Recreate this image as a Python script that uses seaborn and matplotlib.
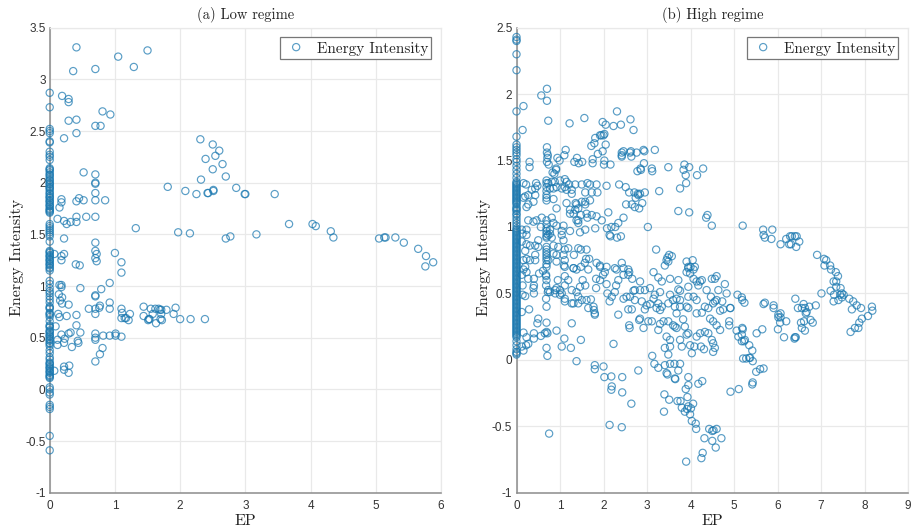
import pandas as pd
import seaborn as sns
import matplotlib.pyplot as plt

# Low regime, points on the EP = 0 axis
low_zero_ei = [2.87, 2.73, 2.52, 2.50, 2.48, 2.40, 2.39, 2.30, 2.27, 2.25, 2.22, 2.14, 2.12, 2.10, 2.07, 2.05,
               2.02, 2.00, 1.98, 1.96, 1.94, 1.92, 1.89, 1.87, 1.85, 1.83, 1.81, 1.79, 1.77, 1.75, 1.73, 1.71,
               1.60, 1.58, 1.56, 1.54, 1.52, 1.50, 1.48, 1.43, 1.34, 1.32, 1.30, 1.28, 1.26, 1.24, 1.22, 1.20,
               1.18, 1.15, 1.05, 1.02, 0.98, 0.95, 0.93, 0.90, 0.87, 0.84, 0.80, 0.78, 0.74, 0.72, 0.70, 0.66,
               0.62, 0.60, 0.57, 0.55, 0.53, 0.51, 0.49, 0.47, 0.45, 0.42, 0.38, 0.35, 0.31, 0.29, 0.26, 0.24,
               0.22, 0.20, 0.18, 0.16, 0.14, 0.12, 0.02, 0.00, -0.03, -0.05, -0.15, -0.17, -0.19, -0.45, -0.59,
               2.13, 2.08, 2.03, 1.99, 1.95, 1.90, 1.86, 1.82, 1.78, 1.74, 1.72, 1.33, 1.29, 1.25, 1.21, 1.17,
               0.79, 0.73, 0.61, 0.56, 0.52, 0.48, 0.44, 0.25, 0.21, 0.17, 0.13, 0.11]

# Low regime, (EP, energy intensity)
low_upper = [(.41, 3.31), (1.05, 3.22), (1.50, 3.28), (1.29, 3.12), (.36, 3.08), (.70, 3.10), (.19, 2.84), (.29, 2.81),
             (.29, 2.78), (.81, 2.69), (.93, 2.66), (.29, 2.60), (.41, 2.61), (.70, 2.55), (.78, 2.55), (.22, 2.43),
             (.41, 2.48), (.52, 2.10), (.70, 2.08), (.70, 2.00), (.70, 1.99), (.70, 1.90), (.70, 1.83), (.85, 1.83),
             (.52, 1.83), (.45, 1.85), (.41, 1.82), (.18, 1.84), (.18, 1.81), (.15, 1.76), (.12, 1.65), (.22, 1.63),
             (.26, 1.60), (.32, 1.62), (.41, 1.62), (.41, 1.67), (.56, 1.67), (.70, 1.67), (1.32, 1.56), (.22, 1.46),
             (.70, 1.42), (.70, 1.34), (.72, 1.31), (1.00, 1.32), (.22, 1.31), (.18, 1.29), (.07, 1.31), (.70, 1.27)]
low_far = [(1.81, 1.96), (2.08, 1.92), (2.25, 1.89), (2.42, 1.90), (2.43, 1.90), (2.51, 1.92), (2.51, 1.93), (2.32, 2.03),
           (2.31, 2.42), (2.50, 2.37), (2.60, 2.31), (2.54, 2.26), (2.39, 2.23), (2.65, 2.18), (2.50, 2.13), (2.70, 2.06),
           (1.97, 1.52), (2.15, 1.51), (2.70, 1.46), (2.77, 1.48), (2.86, 1.95), (2.99, 1.89), (3.00, 1.89), (3.45, 1.89),
           (3.17, 1.50), (3.67, 1.60), (4.03, 1.60), (4.08, 1.58), (4.31, 1.53), (4.35, 1.47), (5.05, 1.46), (5.13, 1.47),
           (5.15, 1.47), (5.30, 1.47), (5.43, 1.42), (5.65, 1.36), (5.77, 1.29), (5.76, 1.19), (5.88, 1.23)]
low_lower = [(1.10, 1.23), (1.10, 1.13), (.72, 1.24), (.40, 1.21), (.46, 1.20), (.18, 1.25), (.15, 1.01), (.18, 1.01),
             (.18, .99), (.47, .98), (.92, 1.03), (.79, .97), (.70, .91), (.70, .90), (.14, .92), (.19, .89), (.16, .86),
             (.19, .83), (.29, .82), (.92, .84), (.92, .78), (.77, .81), (.76, .79), (.60, .78), (.70, .78), (.70, .73),
             (.13, .73), (.15, .70), (.26, .71), (.41, .72), (.41, .62), (.09, .61), (1.10, .78), (1.11, .74), (1.23, .73),
             (1.10, .69), (1.15, .69), (1.17, .69), (1.21, .67), (1.44, .80), (1.44, .71), (1.55, .78), (1.58, .73),
             (1.62, .78), (1.51, .67), (1.52, .68), (1.53, .68), (1.63, .64), (1.67, .78), (1.69, .77), (1.71, .77),
             (1.71, .73), (1.70, .68), (1.72, .67), (1.79, .77), (1.93, .79), (1.90, .73), (2.00, .68), (2.16, .68),
             (2.38, .68), (.18, .53), (.12, .48), (.12, .43), (.22, .45), (.23, .49), (.32, .55), (.29, .54), (.47, .55),
             (.43, .47), (.44, .45), (.34, .41), (.70, .54), (.70, .50), (.70, .48), (.82, .52), (.92, .52), (1.01, .54),
             (1.01, .52), (1.10, .51), (.81, .40), (.77, .34), (.70, .27), (.22, .22), (.30, .23), (.22, .19), (.29, .16),
             (.07, .18)]

# High regime, points on the EP = 0 axis
high_zero_ei = [2.43, 2.41, 2.40, 2.30, 2.18, 1.87, 1.68, 1.62, 1.60, 1.58, 1.56, 1.54, 1.51, 1.49, 1.46, 1.43, 1.40,
                1.37, 1.34, 1.32, 1.30, 1.28, 1.26, 1.24, 1.22, 1.20, 1.18, 1.15, 1.13, 1.10, 1.07, 1.03, 0.99, 0.97,
                0.95, 0.93, 0.91, 0.89, 0.87, 0.85, 0.83, 0.81, 0.79, 0.77, 0.75, 0.73, 0.71, 0.69, 0.67, 0.65, 0.63,
                0.61, 0.59, 0.57, 0.55, 0.53, 0.51, 0.49, 0.47, 0.45, 0.43, 0.41, 0.39, 0.37, 0.35, 0.33, 0.31, 0.29,
                0.27, 0.25, 0.23, 0.21, 0.19, 0.17, 0.14, 0.11, 0.08, 0.06, 0.05, 0.04, 1.33, 1.31, 1.29, 1.27, 1.25,
                1.23, 1.21, 1.19, 1.17, 1.14, 1.12, 1.09, 1.05, 1.01, 0.98, 0.96, 0.94, 0.92, 0.90, 0.88, 0.86, 0.84,
                0.82, 0.80, 0.78, 0.76, 0.74, 0.72, 0.70, 0.68, 0.66, 0.64, 0.62, 0.60, 0.58, 0.56, 0.54, 0.52, 0.50,
                0.48, 0.46, 0.44, 0.42, 0.40, 0.38, 0.36, 0.34, 0.32, 0.30, 0.28, 0.26, 0.24, 0.22, 0.20, 0.18]

# High regime, (EP, energy intensity), grouped by height
high_top = [(.70, 2.04), (.57, 1.99), (.70, 1.95), (.16, 1.91), (.73, 1.80), (.14, 1.73), (1.22, 1.78), (1.56, 1.82),
            (2.31, 1.87), (1.98, 1.79), (2.05, 1.77), (2.23, 1.76), (2.40, 1.77), (2.62, 1.81), (2.69, 1.73), (1.92, 1.69),
            (1.95, 1.69), (2.00, 1.69), (2.02, 1.70), (1.81, 1.67), (1.79, 1.63), (1.72, 1.61), (2.05, 1.62), (1.98, 1.57),
            (1.87, 1.55), (2.02, 1.50), (2.01, 1.47), (2.16, 1.47), (1.75, 1.51), (1.75, 1.48), (1.51, 1.49), (1.43, 1.48),
            (1.33, 1.49), (1.39, 1.52), (1.13, 1.58), (1.10, 1.54), (.99, 1.50), (.94, 1.52), (.70, 1.60), (.70, 1.56),
            (.72, 1.54), (.71, 1.52), (.70, 1.49), (.74, 1.47), (.30, 1.49), (.30, 1.45), (.91, 1.44), (.83, 1.41),
            (.91, 1.43), (.87, 1.40), (2.42, 1.56), (2.42, 1.54), (2.46, 1.57), (2.42, 1.53), (2.63, 1.57), (2.61, 1.56),
            (2.64, 1.53), (2.76, 1.56), (2.92, 1.58), (2.94, 1.57), (3.18, 1.58), (2.93, 1.48), (2.85, 1.44), (2.78, 1.42),
            (2.86, 1.43), (3.11, 1.44), (3.12, 1.42), (3.49, 1.45), (3.86, 1.47), (3.84, 1.43), (3.97, 1.45), (3.89, 1.39),
            (4.15, 1.39), (4.29, 1.44), (3.90, 1.33), (3.76, 1.29), (3.28, 1.27)]
high_upper_band = [(.16, 1.33), (.22, 1.32), (.45, 1.33), (.48, 1.31), (.35, 1.28), (.43, 1.29), (.27, 1.24), (.20, 1.23),
                   (.43, 1.24), (.16, 1.22), (.39, 1.19), (.27, 1.17), (.23, 1.15), (.69, 1.35), (.69, 1.33), (.69, 1.30),
                   (.69, 1.27), (.69, 1.24), (.69, 1.22), (.69, 1.20), (.73, 1.33), (.81, 1.34), (.88, 1.34), (1.00, 1.35),
                   (1.11, 1.36), (1.15, 1.34), (.77, 1.29), (.85, 1.29), (.92, 1.30), (1.04, 1.29), (1.11, 1.30), (1.21, 1.32),
                   (1.35, 1.32), (1.50, 1.32), (1.63, 1.33), (1.69, 1.32), (1.84, 1.32), (2.07, 1.31), (2.36, 1.32), (2.51, 1.30),
                   (1.27, 1.25), (1.15, 1.28), (1.27, 1.28), (1.58, 1.26), (1.73, 1.26), (1.86, 1.26), (.85, 1.21), (.92, 1.14),
                   (1.15, 1.18), (1.36, 1.18), (1.50, 1.19), (1.58, 1.19), (1.69, 1.20), (1.38, 1.17), (1.35, 1.13), (1.23, 1.13),
                   (1.23, 1.10), (1.31, 1.10), (1.42, 1.14), (1.58, 1.17), (1.48, 1.09), (1.61, 1.10), (1.73, 1.09), (1.84, 1.08),
                   (1.96, 1.05), (2.11, 1.11), (1.42, 1.05), (1.42, 1.03), (1.38, 1.05), (1.63, 1.07), (2.59, 1.26), (2.71, 1.26),
                   (2.79, 1.25), (2.84, 1.25), (2.80, 1.24), (2.95, 1.26), (2.74, 1.22), (2.89, 1.18), (2.65, 1.17), (2.52, 1.17),
                   (2.72, 1.15), (2.82, 1.14), (3.02, 1.00), (3.72, 1.12), (3.97, 1.11), (4.39, 1.09), (4.36, 1.07), (4.49, 1.01),
                   (5.20, 1.01), (2.46, 1.07), (2.34, 1.03), (2.27, 1.00), (2.18, 1.00), (2.08, .99), (2.14, .94), (2.16, .93),
                   (2.31, .92), (2.40, .93)]
high_middle_band = [(.27, 1.05), (.39, 1.04), (.46, 1.05), (.58, 1.07), (.69, 1.05), (.81, 1.07), (.85, 1.03), (.56, 1.00),
                    (.69, 1.02), (.77, .98), (.92, 1.01), (1.08, 1.01), (1.04, .97), (1.23, .97), (1.46, .96), (1.58, .98),
                    (1.81, .99), (.12, .98), (.23, .98), (.14, .95), (.23, .94), (.12, .89), (.23, .87), (.31, .86), (.20, .82),
                    (.23, .76), (.16, .75), (.20, .70), (.50, .90), (.43, .86), (.50, .85), (.43, .79), (.43, .75), (.31, .75),
                    (.69, .99), (.69, .97), (.69, .95), (.69, .93), (.69, .92), (.69, .85), (.69, .83), (.69, .81), (.69, .79),
                    (.69, .77), (.69, .75), (.69, .72), (.77, .95), (.81, .92), (.73, .94), (.85, .86), (.96, .85), (.85, .80),
                    (.73, .75), (.92, .74), (1.04, .94), (1.08, .90), (1.19, .84), (1.11, .83), (1.08, .79), (1.11, .75), (.92, .79),
                    (1.32, .79), (1.42, .84), (1.48, .83), (1.61, .83), (1.60, .76), (1.67, .76), (1.57, .73), (1.48, .70), (1.84, .73),
                    (1.92, .71), (2.07, .70), (2.42, .73), (2.26, .69), (1.31, .69), (1.09, .71), (3.21, .83), (3.51, .79), (3.57, .78),
                    (3.47, .77), (3.45, .75), (3.49, .74), (3.41, .71), (3.91, .74), (4.05, .75), (4.00, .70), (4.10, .70), (3.95, .70)]
high_lower_band = [(.69, .70), (.68, .64), (.68, .63), (.69, .60), (.68, .56), (.72, .51), (.68, .46), (.69, .40), (.16, .68),
                   (.23, .66), (.12, .64), (.27, .61), (.40, .61), (.52, .65), (.61, .67), (.14, .56), (.40, .56), (.39, .54),
                   (.40, .50), (.14, .49), (.20, .48), (.73, .525), (.77, .51), (.89, .525), (.92, .54), (1.00, .525), (1.04, .50),
                   (1.00, .49), (.89, .50), (.95, .60), (1.11, .63), (1.19, .60), (1.11, .56), (1.27, .525), (1.38, .51), (1.46, .55),
                   (1.52, .60), (1.58, .56), (1.42, .476), (1.50, .45), (1.11, .46), (1.11, .44), (1.27, .425), (1.31, .425),
                   (1.42, .425), (1.61, .45), (1.71, .455), (1.65, .39), (1.77, .40), (1.78, .375), (1.80, .35), (1.80, .34),
                   (1.83, .61), (1.83, .54), (1.92, .60), (2.07, .57), (2.29, .56), (2.34, .60), (2.46, .64), (2.57, .64), (1.11, .70),
                   (1.31, .69), (1.38, .68), (1.65, .68), (1.92, .70), (2.03, .66), (1.99, .64), (2.30, .68), (2.46, .69), (2.57, .68),
                   (2.09, .50), (2.26, .51), (2.19, .475), (2.14, .44), (2.46, .46), (2.34, .34), (.29, .38), (.12, .36), (.69, .28),
                   (.69, .21), (.65, .20), (.71, .20), (.50, .31), (.48, .275), (.56, .18), (.40, .20), (.40, .16), (.23, .17),
                   (.16, .205), (.27, .12), (.22, .11), (.16, .07), (.12, .10), (.92, .22), (1.27, .275), (1.10, .16), (1.04, .10),
                   (1.25, .09), (1.48, .15), (2.23, .12), (.69, .09), (.71, .03), (2.59, .66), (2.66, .61), (2.84, .59), (3.15, .66),
                   (3.26, .62), (3.34, .59), (3.53, .61), (3.72, .60), (3.95, .69), (3.99, .65), (4.07, .68), (4.07, .61), (4.14, .59),
                   (4.22, .59), (4.26, .60), (3.91, .66), (4.49, .61), (4.56, .61), (4.60, .63), (4.79, .57), (2.69, .52), (2.72, .525),
                   (2.84, .525), (2.95, .525), (3.07, .54), (3.30, .51), (3.53, .49), (3.72, .53), (3.76, .52), (3.95, .55), (4.18, .56),
                   (4.37, .525), (4.64, .525), (4.83, .50), (4.47, .475), (4.60, .45), (4.52, .425), (4.73, .44), (5.08, .49), (5.18, .47),
                   (4.92, .39), (2.61, .475), (2.53, .475), (2.72, .45), (2.88, .44), (2.99, .41), (3.18, .49), (3.15, .46), (3.26, .425),
                   (3.34, .40), (3.49, .425), (3.60, .45), (3.68, .46), (3.76, .45), (3.95, .475), (4.07, .475), (4.14, .45), (4.33, .40),
                   (4.41, .39), (4.68, .37), (4.75, .38), (4.56, .44), (2.57, .38), (2.65, .38), (2.95, .38), (3.07, .42), (3.22, .39),
                   (3.30, .375), (3.76, .40), (3.68, .35), (3.64, .40), (3.91, .40), (3.95, .39), (4.14, .35), (4.26, .355), (4.45, .31),
                   (4.52, .29), (4.60, .26), (4.68, .225)]
high_bottom = [(2.59, .26), (2.60, .24), (2.84, .31), (2.82, .30), (3.03, .29), (3.11, .29), (2.92, .24), (3.26, .225), (3.30, .27),
               (3.38, .29), (3.49, .29), (3.60, .26), (3.64, .25), (3.68, .24), (3.83, .305), (3.87, .25), (3.95, .20), (3.91, .19),
               (4.14, .175), (4.22, .20), (4.33, .21), (4.41, .20), (4.49, .15), (4.52, .125), (4.56, .09), (4.52, .06), (5.06, .22),
               (5.18, .19), (5.10, .175), (5.19, .24), (4.89, .29), (4.89, .26), (3.53, .15), (3.45, .175), (3.53, .10), (3.41, .09),
               (3.49, .04), (3.76, .15), (3.80, .10), (3.99, .11), (4.09, .10), (4.24, .10), (4.31, .08), (4.03, .05), (3.12, .03),
               (3.17, -.03), (3.26, -.06), (3.41, -.04), (3.53, -.03), (3.63, -.03), (3.76, -.03), (2.80, -.08), (3.72, -.08),
               (3.45, -.10), (5.21, .01), (5.23, .14), (1.38, -.01), (1.80, -.04), (1.80, -.07), (2.00, -.05), (2.02, -.13),
               (2.18, -.125), (2.43, -.13), (2.19, -.20), (2.18, -.225), (2.43, -.245), (2.64, -.33), (2.14, -.49), (2.42, -.507),
               (.75, -.555), (3.65, -.145), (3.47, -.11), (3.64, -.14), (3.95, -.13), (3.95, -.19), (3.89, -.22), (4.18, -.18),
               (4.27, -.16), (3.93, -.28), (3.40, -.26), (3.51, -.30), (3.70, -.31), (3.77, -.31), (4.06, -.33), (3.80, -.36),
               (3.39, -.39), (3.95, -.35), (3.92, -.37), (4.01, -.365), (3.87, -.39), (3.99, -.41), (4.03, -.46), (4.12, -.48),
               (4.13, -.52), (4.43, -.52), (4.50, -.535), (4.53, -.53), (4.60, -.52), (4.32, -.59), (4.50, -.61), (4.71, -.59),
               (4.58, -.66), (4.28, -.70), (4.25, -.74), (3.90, -.766), (4.92, -.24), (5.11, -.22)]
high_right = [(5.67, .98), (5.88, .98), (5.68, .94), (5.71, .92), (5.86, .91), (6.07, .87), (6.20, .91), (6.29, .93), (6.40, .93),
              (6.44, .93), (6.50, .89), (6.43, .85), (6.27, .87), (6.31, .87), (6.33, .93), (6.91, .79), (7.07, .76), (7.12, .75),
              (7.08, .71), (7.21, .71), (7.23, .68), (7.34, .66), (7.39, .63), (7.35, .59), (7.29, .59), (7.35, .55), (7.22, .52),
              (7.45, .54), (7.30, .49), (7.29, .44), (7.40, .45), (7.01, .50), (7.48, .50), (7.52, .49), (7.44, .49), (7.48, .47),
              (7.65, .46), (7.74, .44), (7.71, .38), (7.82, .41), (7.92, .39), (8.17, .40), (8.18, .37), (8.08, .33), (7.94, .31),
              (7.88, .28), (7.86, .24), (7.78, .24), (7.68, .21), (6.41, .46), (6.60, .42), (6.47, .39), (6.56, .39), (6.63, .39),
              (6.73, .40), (6.67, .36), (6.88, .41), (6.65, .35), (5.91, .41), (5.91, .39), (5.68, .42), (5.71, .43), (5.19, .45),
              (5.24, .43), (4.91, .39), (6.02, .34), (6.07, .35), (6.02, .32), (6.07, .32), (6.06, .28), (6.20, .29), (6.01, .23),
              (6.15, .17), (6.54, .28), (6.61, .29), (6.76, .30), (6.81, .28), (6.56, .24), (6.63, .22), (6.40, .17), (6.42, .17),
              (6.39, .16), (5.20, .23), (5.25, .15), (5.18, .14), (5.35, .11), (5.42, .07), (5.65, .23), (5.52, .20), (5.28, .01),
              (5.35, .015), (5.37, .015), (5.43, -.01), (5.51, -.09), (5.60, -.07), (5.68, -.065), (5.43, -.17), (5.42, -.185)]

low_ticks_y = [-1, -0.5, 0, 0.5, 1, 1.5, 2, 2.5, 3, 3.5]
low_ticks_x = [0, 1, 2, 3, 4, 5, 6]
high_ticks_y = [-1, -0.5, 0, 0.5, 1, 1.5, 2, 2.5]
high_ticks_x = [0, 1, 2, 3, 4, 5, 6, 7, 8, 9]

low_df = pd.DataFrame(low_upper + low_far + low_lower + [(0, v) for v in low_zero_ei], columns=['EP', 'EI'])
high_df = pd.DataFrame(high_top + high_upper_band + high_middle_band + high_lower_band + high_bottom + high_right
                       + [(0, v) for v in high_zero_ei], columns=['EP', 'EI'])

sns.set_theme(style='whitegrid')
plt.rcParams['font.family'] = ['Liberation Sans', 'DejaVu Sans']
plt.rcParams['axes.unicode_minus'] = False
serif = ['cmr10', 'DejaVu Serif']

fig = plt.figure(figsize=(9.14, 5.28), dpi=100)
ax1 = fig.add_axes([49.7 / 914, 1 - 492.7 / 528, 391.3 / 914, 465 / 528])
ax2 = fig.add_axes([516.5 / 914, 1 - 492.7 / 528, 391.5 / 914, 465 / 528])


def draw(ax, df, ticks_x, ticks_y, title, legend_x):
    sns.scatterplot(data=df, x='EP', y='EI', ax=ax, marker='o', s=27, facecolors='none', edgecolor='#1a78b0',
                    linewidth=0.85, alpha=0.72, clip_on=False, label='Energy Intensity', zorder=3)
    ax.set_xlim(ticks_x[0], ticks_x[-1])
    ax.set_ylim(ticks_y[0], ticks_y[-1])
    ax.set_xticks(ticks_x)
    ax.set_yticks(ticks_y)
    ax.set_xticklabels([str(t) for t in ticks_x])
    ax.set_yticklabels([f'{t:g}' for t in ticks_y])
    ax.tick_params(labelsize=8.5, colors='#333333', length=3, width=0.7, direction='in')
    ax.tick_params(axis='x', pad=5)
    ax.tick_params(axis='y', pad=3)
    ax.grid(True, color='#e9e9e9', linewidth=0.9)
    ax.set_axisbelow(True)
    for side in ['top', 'right']:
        ax.spines[side].set_color('#e9e9e9')
        ax.spines[side].set_linewidth(0.9)
    for side in ['left', 'bottom']:
        ax.spines[side].set_color('#8c8c8c')
        ax.spines[side].set_linewidth(1.1)
    ax.set_title(title, fontsize=10.5, family=serif, pad=6, color='#222222')
    ax.set_xlabel('EP', fontsize=11.5, family=serif, labelpad=2, color='#222222')
    ax.set_ylabel('Energy Intensity', fontsize=11.5, family=serif, labelpad=1, y=0.505, color='#222222')
    leg = ax.legend(loc='upper right', bbox_to_anchor=legend_x, fancybox=False, framealpha=1, edgecolor='#777777',
                    prop={'family': serif, 'size': 11}, borderpad=0.2, handleheight=1.15, handlelength=1.7,
                    handletextpad=0.5, borderaxespad=0)
    leg.get_frame().set_linewidth(0.9)


draw(ax1, low_df, low_ticks_x, low_ticks_y, '(a) Low regime', (0.975, 0.98))
draw(ax2, high_df, high_ticks_x, high_ticks_y, '(b) High regime', (0.975, 0.98))

plt.savefig('out.png', dpi=100)
